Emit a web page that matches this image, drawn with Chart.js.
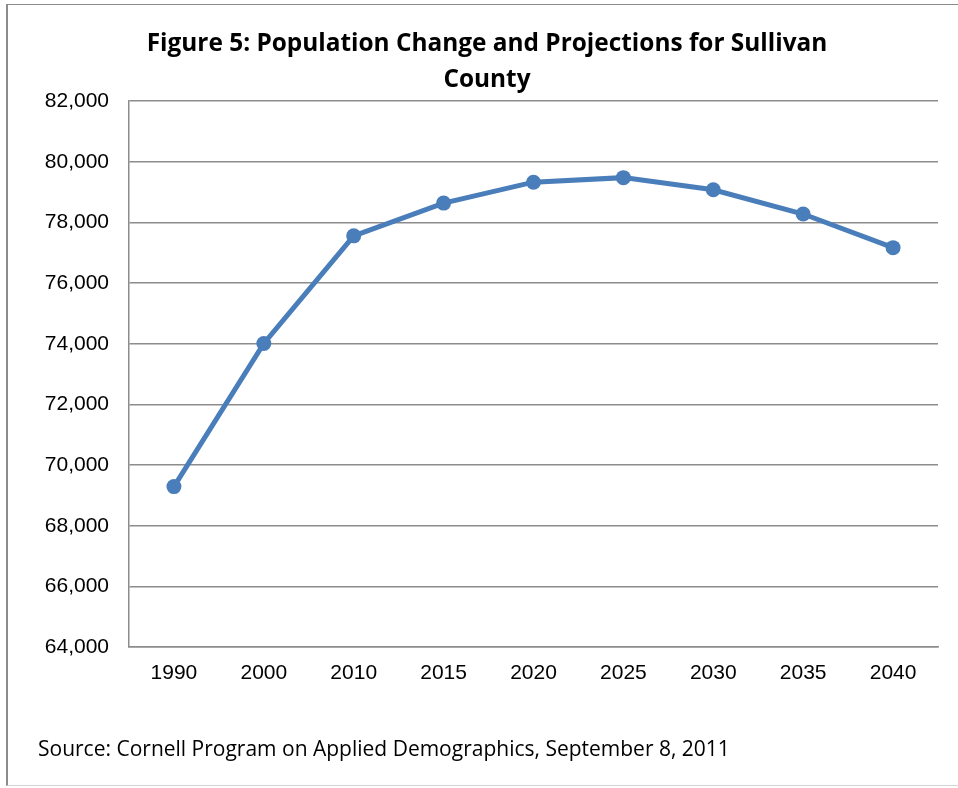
<!DOCTYPE html>
<html>
<head>
<meta charset="utf-8">
<script src="https://cdn.jsdelivr.net/npm/chart.js@4"></script>
<style>
  body { margin: 0; background: #fff; }
  #wrap { position: relative; width: 958px; height: 788px; }
  #frame {
    position: absolute; left: 6px; top: 4px; width: 952px; height: 782px;
    border-top: 1.5px solid #8c8c8c; border-left: 2px solid #8c8c8c;
    border-bottom: 1.5px solid #d4d4d4; box-sizing: border-box;
  }
  #source {
    position: absolute; left: 38px; top: 734px;
    font-family: "Open Sans", sans-serif; font-size: 21px; line-height: 28px; color: #000;
    white-space: nowrap;
  }
  canvas { position: absolute; left: 0; top: 0; }
</style>
</head>
<body>
<div id="wrap">
  <div id="frame"></div>
  <canvas id="chart" width="958" height="788"></canvas>
  <div id="source">Source: Cornell Program on Applied Demographics, September 8, 2011</div>
</div>
<script>
// =======================
// DATA
// =======================

const years = ["1990", "2000", "2010", "2015", "2020", "2025", "2030", "2035", "2040"];
const population = [69290, 74010, 77560, 78640, 79330, 79480, 79080, 78280, 77170];
const titleLines = ["Figure 5: Population Change and Projections for Sullivan", "County"];

const yMin = 64000;
const yMax = 82000;
const yStep = 2000;

// =======================
// CHART
// =======================

const lineBlue = "#4a7ebb";
const gridGray = "#8c8c8c";

const ctx = document.getElementById("chart").getContext("2d");

new Chart(ctx, {
  type: "line",
  data: {
    labels: years,
    datasets: [{
      label: "Population",
      data: population,
      borderColor: lineBlue,
      backgroundColor: lineBlue,
      borderWidth: 5,
      pointRadius: 7.5,
      pointBorderWidth: 0,
      pointBackgroundColor: lineBlue,
      tension: 0
    }]
  },
  options: {
    responsive: false,
    animation: false,
    layout: {
      // left padding centres the title over the frame; y axis width makes up the rest
      padding: { left: 36, right: 20, top: 0, bottom: 101 }
    },
    plugins: {
      legend: { display: false },
      tooltip: { enabled: false },
      title: {
        display: true,
        text: titleLines,
        color: "#000",
        font: { family: "'Open Sans', sans-serif", size: 24.4, weight: "bold", lineHeight: 1.48 },
        padding: { top: 26, bottom: 3 }
      }
    },
    scales: {
      x: {
        offset: true,
        grid: { display: false, drawTicks: false },
        border: { display: true, color: gridGray, width: 1.5 },
        ticks: {
          color: "#000",
          padding: 14,
          maxRotation: 0,
          font: { family: "'Liberation Sans', Arial, sans-serif", size: 21 }
        },
        afterFit: (scale) => { scale.height = 40; }
      },
      y: {
        min: yMin,
        max: yMax,
        grid: { color: gridGray, lineWidth: 1.5, drawTicks: false },
        border: { display: true, color: gridGray, width: 1.5 },
        ticks: {
          stepSize: yStep,
          color: "#000",
          padding: 20,
          font: { family: "'Liberation Sans', Arial, sans-serif", size: 21 },
          callback: (v) => v.toLocaleString("en-US")
        },
        afterFit: (scale) => { scale.width = 93; }
      }
    }
  }
});
</script>
</body>
</html>
